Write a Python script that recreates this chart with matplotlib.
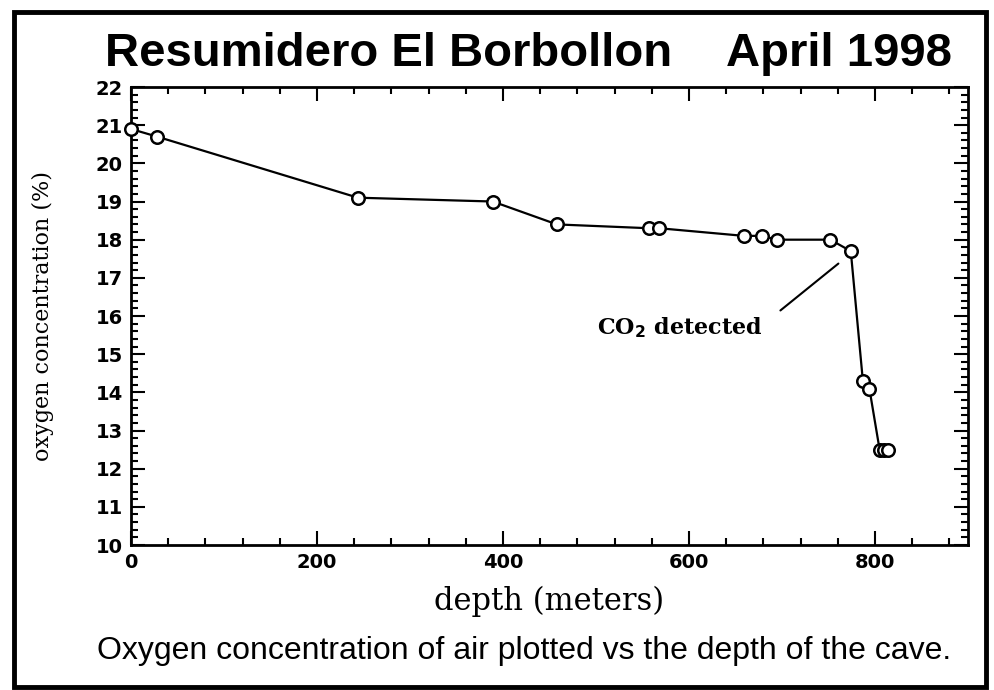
import matplotlib
matplotlib.use('Agg')
import matplotlib.pyplot as plt
from matplotlib import font_manager
from matplotlib.patches import Rectangle
from matplotlib.ticker import MultipleLocator

# data
depth = [0, 28, 244, 389, 458, 557, 568, 659, 678, 695, 752, 774, 787, 794, 805, 810, 814]
oxygen = [20.9, 20.7, 19.1, 19.0, 18.4, 18.3, 18.3, 18.1, 18.1, 18.0, 18.0, 17.7, 14.3, 14.1, 12.5, 12.5, 12.5]
title_left = 'Resumidero El Borbollon'
title_right = 'April 1998'
caption = 'Oxygen concentration of air plotted vs the depth of the cave.'

names = {f.name for f in font_manager.fontManager.ttflist}
narrow = 'Liberation Sans Narrow' if 'Liberation Sans Narrow' in names else 'Liberation Sans'

fig = plt.figure(figsize=(9.94, 6.90), dpi=100)
ax = fig.add_axes([0.1318, 0.2101, 0.8420, 0.6638])

ax.plot(depth, oxygen, color='k', lw=1.6, marker='o', ms=9, mfc='white',
        mec='k', mew=1.8, clip_on=False, zorder=3)

ax.set_xlim(0, 900)
ax.set_ylim(10, 22)
ax.xaxis.set_major_locator(MultipleLocator(200))
ax.xaxis.set_minor_locator(MultipleLocator(40))
ax.yaxis.set_major_locator(MultipleLocator(1))
ax.yaxis.set_minor_locator(MultipleLocator(0.2))
ax.tick_params(which='both', direction='in', top=True, right=True, width=1.5)
ax.tick_params(which='major', length=10, labelsize=14, pad=6)
ax.tick_params(which='minor', length=5)
for lab in ax.get_xticklabels() + ax.get_yticklabels():
    lab.set_fontweight('bold')
for s in ax.spines.values():
    s.set_linewidth(2)

ax.set_xlabel('depth (meters)', family='DejaVu Serif', fontsize=22, labelpad=10)
ax.set_ylabel('oxygen concentration (%)', family='DejaVu Serif', fontsize=16, labelpad=30)

ax.annotate('', xy=(763, 17.42), xytext=(696, 16.1),
            arrowprops=dict(arrowstyle='-', color='k', lw=1.5))
ax.text(590, 15.69, r'CO$_\mathbf{2}$ detected', family='DejaVu Serif', fontweight='bold',
        fontsize=16, ha='center', va='center')

fig.text(0.106, 0.905, title_left, family=narrow, fontweight='bold', fontsize=34, ha='left', va='baseline')
fig.text(0.958, 0.905, title_right, family=narrow, fontweight='bold', fontsize=34, ha='right', va='baseline')
fig.text(0.527, 0.045, caption, family=narrow, fontsize=23, ha='center', va='baseline')

fig.patches.append(Rectangle((0.014, 0.004), 0.978, 0.978, transform=fig.transFigure,
                             fill=False, lw=3.5, ec='k'))

fig.savefig('out.png', dpi=100)
